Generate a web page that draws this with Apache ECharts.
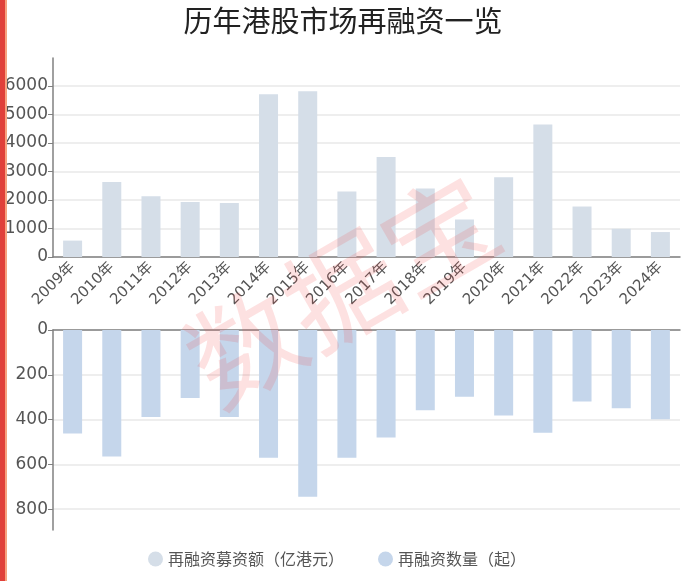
<!DOCTYPE html>
<html>
<head>
<meta charset="utf-8">
<script src="https://cdn.jsdelivr.net/npm/echarts@6/dist/echarts.min.js"></script>
<style>
  html, body { margin: 0; padding: 0; background: #fff; }
  #chart { width: 700px; height: 581px; }
</style>
</head>
<body>
<div id="chart"></div>
<script>
const years = ["2009年", "2010年", "2011年", "2012年", "2013年", "2014年", "2015年", "2016年",
  "2017年", "2018年", "2019年", "2020年", "2021年", "2022年", "2023年", "2024年"]
// 再融资募资额（亿港元）
const amount = [575, 2630, 2130, 1925, 1890, 5710, 5815, 2295, 3505, 2400, 1315, 2795, 4650, 1770, 990, 875]
// 再融资数量（起）
const count = [462, 565, 388, 304, 388, 570, 744, 570, 480, 358, 298, 382, 459, 319, 349, 398]

const chart = echarts.init(document.getElementById("chart"))

const font = "'Noto Sans CJK SC', 'Noto Sans', sans-serif"
const numFont = "'DejaVu Sans', 'Noto Sans CJK SC', sans-serif"
const axisColor = "#808080"
const splitColor = "#e8e8e8"

const options = {
  backgroundColor: "#fff",
  textStyle: { fontFamily: font },
  title: {
    text: "历年港股市场再融资一览",
    left: 338,
    top: 1,
    textAlign: "center",
    textStyle: { fontSize: 29, fontWeight: "normal", color: "#222", fontFamily: font }
  },
  legend: {
    bottom: 9,
    left: 143,
    itemGap: 34,
    itemWidth: 15,
    itemHeight: 15,
    icon: "circle",
    textStyle: { fontSize: 16, color: "#555", fontFamily: font },
    data: ["再融资募资额（亿港元）", "再融资数量（起）"]
  },
  grid: [
    { left: 53, right: 20, top: 58, height: 199 },
    { left: 53, right: 20, top: 330, height: 200 }
  ],
  xAxis: [
    {
      type: "category",
      gridIndex: 0,
      data: years,
      axisLine: { lineStyle: { color: axisColor, width: 1.5 } },
      axisTick: { alignWithLabel: true, length: 5, lineStyle: { color: axisColor } },
      axisLabel: { rotate: 45, fontSize: 15, color: "#555", margin: 8, interval: 0, fontFamily: numFont }
    },
    {
      type: "category",
      gridIndex: 1,
      position: "top",
      data: years,
      axisLine: { lineStyle: { color: axisColor, width: 1.5 } },
      axisTick: { alignWithLabel: true, length: 5, lineStyle: { color: axisColor } },
      axisLabel: { show: false }
    }
  ],
  yAxis: [
    {
      type: "value",
      gridIndex: 0,
      min: 0,
      max: (v) => v.max * 1.2,
      interval: 1000,
      axisLine: { show: true, lineStyle: { color: axisColor, width: 1.5 } },
      axisTick: { show: true, length: 5, lineStyle: { color: axisColor } },
      axisLabel: {
        fontSize: 17, color: "#555", showMaxLabel: false, margin: 5, fontFamily: numFont,
        formatter: (v) => String(v)
      },
      splitLine: { lineStyle: { color: splitColor, width: 1.5 }, showMaxLine: false }
    },
    {
      type: "value",
      gridIndex: 1,
      inverse: true,
      min: 0,
      max: (v) => v.max * 1.2,
      interval: 200,
      axisLine: { show: true, lineStyle: { color: axisColor, width: 1.5 } },
      axisTick: { show: true, length: 5, lineStyle: { color: axisColor } },
      axisLabel: {
        fontSize: 17, color: "#555", showMaxLabel: false, margin: 5, fontFamily: numFont,
        formatter: (v) => String(v)
      },
      splitLine: { lineStyle: { color: splitColor, width: 1.5 }, showMaxLine: false }
    }
  ],
  series: [
    {
      name: "再融资募资额（亿港元）",
      type: "bar",
      xAxisIndex: 0,
      yAxisIndex: 0,
      barWidth: 19,
      itemStyle: { color: "#d5dee8" },
      data: amount
    },
    {
      name: "再融资数量（起）",
      type: "bar",
      xAxisIndex: 1,
      yAxisIndex: 1,
      barWidth: 19,
      itemStyle: { color: "#c5d6eb" },
      data: count
    }
  ],
  graphic: [
    // 水印
    {
      type: "text",
      x: 342,
      y: 290,
      rotation: Math.PI / 6,
      z: 100,
      silent: true,
      style: {
        text: "数据宝",
        fontSize: 112,
        fontFamily: font,
        fill: "rgba(240, 70, 70, 0.16)",
        align: "center",
        verticalAlign: "middle"
      }
    },
    // 左侧红条
    {
      type: "rect",
      left: 0,
      top: 0,
      z: 100,
      shape: { width: 5, height: 581 },
      style: { fill: "#e0403a" }
    },
    {
      type: "rect",
      left: 5,
      top: 0,
      z: 100,
      shape: { width: 2, height: 581 },
      style: { fill: "#f7a27f" }
    }
  ]
}

chart.setOption(options)
</script>
</body>
</html>
